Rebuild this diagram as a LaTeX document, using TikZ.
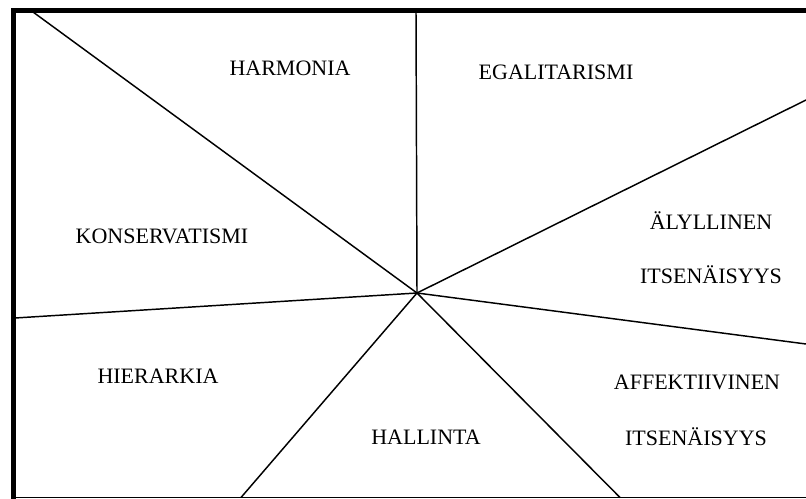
\documentclass[tikz,border=0pt]{standalone}
\usepackage{fontspec}
\setmainfont{Liberation Serif}
\begin{document}
\begin{tikzpicture}[x=0.75pt,y=-0.75pt,
  seg/.style={line width=1.1pt,black},
  frame/.style={line width=3.75pt,black},
  lab/.style={font=\fontsize{16.5}{19}\selectfont,inner sep=0pt,anchor=center}]
\useasboundingbox (0,0) rectangle (806,499);
\coordinate (c) at (417,293);
\coordinate (eT) at (416,12);
\coordinate (eTL) at (33,12);
\coordinate (eRU) at (806,100);
\coordinate (eL) at (15,318);
\coordinate (eRL) at (806,344);
\coordinate (eBL) at (241,497.5);
\coordinate (eBR) at (620,497.5);
\coordinate (bl) at (15,497.5);
\coordinate (br) at (806,497.5);
% frame
\draw[line width=1.0pt] (bl) -- (br);
\draw[frame] (806,10.5) -- (13.5,10.5) -- (13.5,499);
% rays
\draw[seg] (c) -- (eT);
\draw[seg] (c) -- (eTL);
\draw[seg] (c) -- (eRU);
\draw[seg] (c) -- (eL);
\draw[seg] (c) -- (eRL);
\draw[seg] (c) -- (eBL);
\draw[seg] (c) -- (eBR);
% labels
\node[lab] (harm) at (290,68) {HARMONIA};
\node[lab] (egal) at (556,72) {EGALITARISMI};
\node[lab] (kons) at (162,236) {KONSERVATISMI};
\node[lab] (hier) at (158,376) {HIERARKIA};
\node[lab] (aly) at (711,221) {ÄLYLLINEN};
\node[lab] (its1) at (711,275) {ITSENÄISYYS};
\node[lab] (aff) at (697,382) {AFFEKTIIVINEN};
\node[lab] (its2) at (696,437) {ITSENÄISYYS};
\node[lab] (hall) at (426,437) {HALLINTA};
\end{tikzpicture}
\end{document}
